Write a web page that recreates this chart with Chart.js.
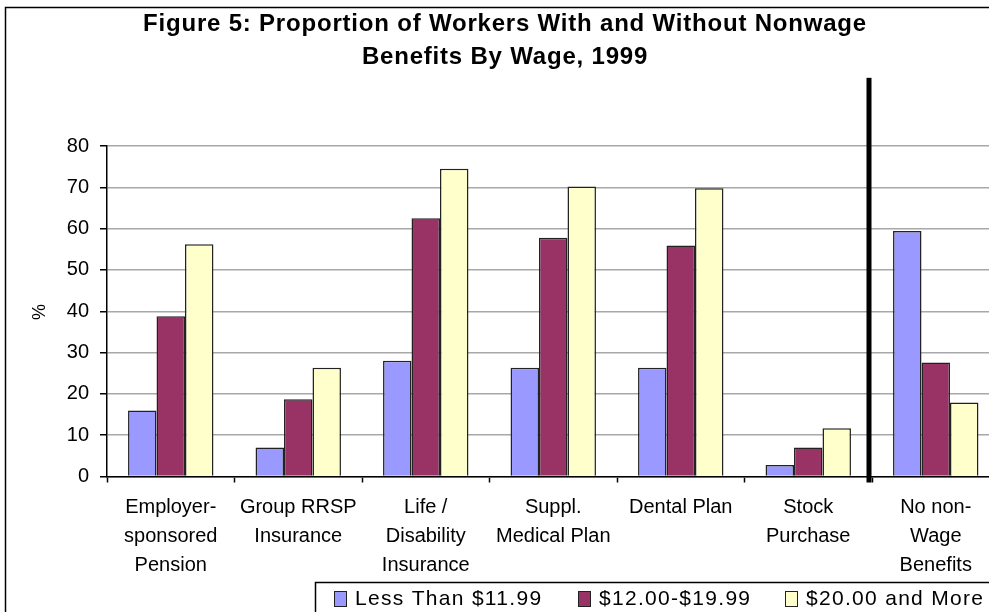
<!DOCTYPE html>
<html>
<head>
<meta charset="utf-8">
<script src="https://cdn.jsdelivr.net/npm/chart.js@4"></script>
<style>
  html, body { margin: 0; padding: 0; background: #fff; overflow: hidden; }
  #wrap { width: 989px; height: 612px; overflow: hidden; position: relative; }
  #benefitChart { position: absolute; left: 0; top: 0; }
</style>
</head>
<body>
<div id="wrap">
  <canvas id="benefitChart" width="1000" height="612"></canvas>
</div>
<script>
const categories = [
  ["Employer-", "sponsored", "Pension"],
  ["Group RRSP", "Insurance"],
  ["Life /", "Disability", "Insurance"],
  ["Suppl.", "Medical Plan"],
  ["Dental Plan"],
  ["Stock", "Purchase"],
  ["No non-", "Wage", "Benefits"],
];
const seriesNames = ["Less Than $11.99", "$12.00-$19.99", "$20.00 and More"];
const lowWage = [16, 7, 28, 26.3, 26.3, 2.8, 59.4];
const midWage = [38.8, 18.7, 62.5, 57.8, 55.9, 7, 27.6];
const highWage = [56.2, 26.3, 74.5, 70.2, 69.8, 11.7, 17.9];
const yTicks = [0, 10, 20, 30, 40, 50, 60, 70, 80];
const titleLines = ["Figure 5: Proportion of Workers With and Without Nonwage", "Benefits By Wage, 1999"];
const yTitle = "%";

const colors = ["#9999FF", "#993366", "#FFFFCC"];
const fontFamily = "'Liberation Sans', Arial, sans-serif";
Chart.defaults.font.family = fontFamily;
Chart.defaults.color = "#000";

/* ---------- frame, title, divider and legend ---------- */
const decorPlugin = {
  id: "decor",
  afterDraw(chart) {
    const ctx = chart.ctx;
    const x = chart.scales.x;
    const y = chart.scales.y;
    ctx.save();

    // outer border
    ctx.strokeStyle = "#000";
    ctx.lineWidth = 1.5;
    ctx.strokeRect(5.5, 7.5, 2000, 2000);

    // title
    ctx.fillStyle = "#000";
    ctx.font = "bold 24px " + fontFamily;
    ctx.textAlign = "center";
    ctx.textBaseline = "middle";
    if ("letterSpacing" in ctx) ctx.letterSpacing = "0.8px";
    ctx.fillText(titleLines[0], 505, 24);
    ctx.fillText(titleLines[1], 505, 57);
    if ("letterSpacing" in ctx) ctx.letterSpacing = "0px";

    // y title
    ctx.save();
    ctx.translate(40, 312);
    ctx.rotate(-Math.PI / 2);
    ctx.font = "18px " + fontFamily;
    ctx.fillText(yTitle, 0, 0);
    ctx.restore();

    // divider between benefits and "no benefits"
    const divX = (x.getPixelForValue(5) + x.getPixelForValue(6)) / 2 - 3;
    ctx.fillStyle = "#000";
    ctx.fillRect(divX - 2.5, y.getPixelForValue(96.5), 5, y.getPixelForValue(0) - y.getPixelForValue(96.5) + 6);

    // legend
    ctx.lineWidth = 1.5;
    ctx.strokeStyle = "#000";
    ctx.strokeRect(315.5, 582.5, 2000, 200);
    const itemX = [334, 578, 785];
    ctx.font = "21px " + fontFamily;
    ctx.textAlign = "left";
    ctx.textBaseline = "alphabetic";
    if ("letterSpacing" in ctx) ctx.letterSpacing = "1.3px";
    chart.data.datasets.forEach((ds, i) => {
      ctx.fillStyle = ds.backgroundColor;
      ctx.fillRect(itemX[i], 591, 12, 15);
      ctx.lineWidth = 1;
      ctx.strokeStyle = "#222";
      ctx.strokeRect(itemX[i] + 0.5, 591.5, 12, 15);
      ctx.fillStyle = "#000";
      ctx.fillText(ds.label, itemX[i] + 21, 605);
    });
    ctx.restore();
  },
};

const ctx = document.getElementById("benefitChart");
new Chart(ctx, {
  type: "bar",
  data: {
    labels: categories,
    datasets: [lowWage, midWage, highWage].map((values, i) => ({
      label: seriesNames[i],
      data: values,
      backgroundColor: colors[i],
      borderColor: "#222",
      borderWidth: 1.5,
      barPercentage: 1,
      categoryPercentage: 0.67,
    })),
  },
  options: {
    responsive: false,
    animation: false,
    layout: { padding: { top: 146, left: 0, right: 0.5, bottom: 0 } },
    plugins: {
      legend: { display: false },
      title: { display: false },
      tooltip: { enabled: false },
    },
    scales: {
      x: {
        afterFit: (scale) => { scale.height = 135.5; },
        grid: { drawOnChartArea: false, drawTicks: true, tickLength: 6, tickColor: "#000", tickWidth: 1.5 },
        border: { color: "#000", width: 1.5 },
        ticks: {
          font: { size: 20, lineHeight: "29px" },
          color: "#000",
          padding: 10,
          maxRotation: 0,
          autoSkip: false,
        },
      },
      y: {
        min: 0,
        max: 80,
        afterFit: (scale) => { scale.width = 107; },
        afterBuildTicks: (scale) => { scale.ticks = yTicks.map((v) => ({ value: v })); },
        grid: { color: "#a8a8a8", lineWidth: 1.5, tickLength: 7, tickColor: "#000", tickWidth: 1.5 },
        border: { color: "#000", width: 1.5 },
        ticks: { font: { size: 20 }, color: "#000", padding: 11 },
      },
    },
  },
  plugins: [decorPlugin],
});
</script>
</body>
</html>
